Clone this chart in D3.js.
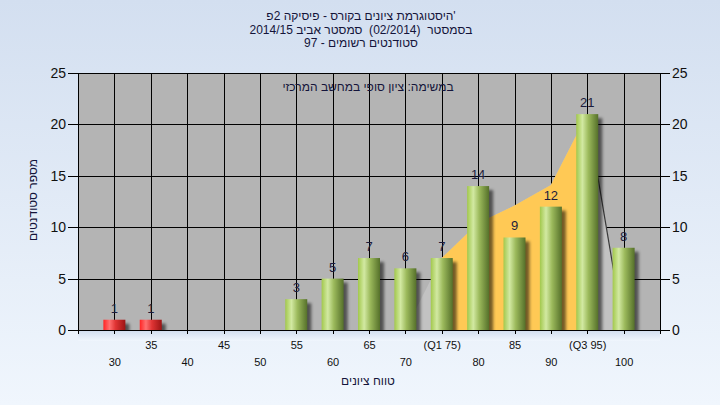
<!DOCTYPE html>
<html>
<head>
<meta charset="utf-8">
<script src="https://cdn.jsdelivr.net/npm/d3@7"></script>
<style>
  html, body { margin: 0; padding: 0; }
  svg { display: block; }
  text { font-family: "Liberation Sans", Arial, "DejaVu Sans", sans-serif; }
</style>
</head>
<body>
<svg id="chart" width="720" height="405"></svg>
<script>
// ---------- data ----------
const categories = ["30","35","40","45","50","55","60","65","70","75","80","85","90","95","100"];
const tickLabels = ["30","35","40","45","50","55","60","65","70","(Q1 75)","80","85","90","(Q3 95)","100"];
const counts     = [1, 1, 0, 0, 0, 3, 5, 7, 6, 7, 14, 9, 12, 21, 8];
const failCategories = ["30","35","40","45","50"];
// distribution band (light gray outside quartiles, orange between Q1 and Q3)
const bandCategories = ["70","75","80","85","90","95","100"];
const bandValues     = [0, 7, 10.4, 12.1, 14.1, 21, 0];
const q1Category = "75";
const q3Category = "95";
const yTicks = [0, 5, 10, 15, 20, 25];
const titleLines = ["היסטוגרמת ציונים בקורס - פיסיקה 2פ'", "בסמסטר  (02/2014)  סמסטר אביב 2014/15", "סטודנטים רשומים - 97"];
const plotSubtitle = "במשימה: ציון סופי במחשב המרכזי";
const yTitle = "מספר סטודנטים";
const xTitle = "טווח ציונים";

// ---------- layout ----------
const W = 720, H = 405;
const plot = {left: 78, right: 660, top: 73, bottom: 330};
const svg = d3.select("#chart");
const defs = svg.append("defs");

const bg = defs.append("linearGradient").attr("id","bg").attr("x1",0).attr("y1",0).attr("x2",0).attr("y2",1);
bg.append("stop").attr("offset","0%").attr("stop-color","#d3dff0");
bg.append("stop").attr("offset","100%").attr("stop-color","#f0f6fd");

const gGreen = defs.append("linearGradient").attr("id","green").attr("x1",0).attr("y1",0).attr("x2",1).attr("y2",0);
[["0%","#a2c84c"],["28%","#d2e9a2"],["55%","#9cba5c"],["100%","#55702a"]].forEach(([o,c]) =>
  gGreen.append("stop").attr("offset",o).attr("stop-color",c));
const gRed = defs.append("linearGradient").attr("id","red").attr("x1",0).attr("y1",0).attr("x2",1).attr("y2",0);
[["0%","#ff2424"],["28%","#ff7070"],["55%","#e03434"],["100%","#9c1414"]].forEach(([o,c]) =>
  gRed.append("stop").attr("offset",o).attr("stop-color",c));

const shadow = defs.append("filter").attr("id","shadow").attr("x","-50%").attr("y","-50%").attr("width","200%").attr("height","200%");
shadow.append("feGaussianBlur").attr("stdDeviation",1.6);

svg.append("rect").attr("width",W).attr("height",H).attr("fill","url(#bg)");

// ---------- scales ----------
const x = d3.scalePoint().domain(categories).range([plot.left, plot.right]).padding(1);
const y = d3.scaleLinear().domain([0, 25]).range([plot.bottom, plot.top]);

// plot background
svg.append("rect").attr("x",plot.left).attr("y",plot.top)
  .attr("width",plot.right-plot.left).attr("height",plot.bottom-plot.top).attr("fill","#b4b4b4");

// grid
const grid = svg.append("g").attr("stroke","#000").attr("stroke-width",1).attr("shape-rendering","crispEdges");
grid.selectAll("line.h").data(yTicks.filter(d=>d>0)).join("line")
  .attr("x1",plot.left).attr("x2",plot.right).attr("y1",d=>Math.round(y(d))+0.5).attr("y2",d=>Math.round(y(d))+0.5);
grid.selectAll("line.v").data(categories).join("line")
  .attr("y1",plot.top).attr("y2",plot.bottom).attr("x1",d=>Math.round(x(d))+0.5).attr("x2",d=>Math.round(x(d))+0.5);

// distribution band
const bandData = bandCategories.map((c,i)=>({c, v: bandValues[i]}));
const area = d3.area().x(d=>x(d.c)).y0(y(0)).y1(d=>y(d.v));
svg.append("path").datum(bandData).attr("d",area).attr("fill","#c2c2c2");
const i1 = bandCategories.indexOf(q1Category), i3 = bandCategories.indexOf(q3Category);
svg.append("path").datum(bandData.slice(i1, i3+1)).attr("d",area).attr("fill","#ffc955");
svg.append("path").datum(bandData.slice(i3)).attr("d",d3.line().x(d=>x(d.c)).y(d=>y(d.v)))
  .attr("fill","none").attr("stroke","#3a3a3a").attr("stroke-width",1.2);

// bars
const barW = 22;
const data = categories.map((c,i)=>({c, v: counts[i]})).filter(d=>d.v>0);
svg.append("g").selectAll("rect").data(data).join("rect")
  .attr("x",d=>x(d.c)-barW/2+4).attr("y",d=>y(d.v)+4)
  .attr("width",barW).attr("height",d=>y(0)-y(d.v))
  .attr("fill","#000").attr("opacity",0.55).attr("filter","url(#shadow)");
svg.append("rect").attr("x",plot.left).attr("y",plot.bottom+1).attr("width",plot.right-plot.left).attr("height",10).attr("fill","url(#bg)");
svg.append("g").selectAll("rect").data(data).join("rect")
  .attr("x",d=>x(d.c)-barW/2).attr("y",d=>y(d.v))
  .attr("width",barW).attr("height",d=>y(0)-y(d.v))
  .attr("fill",d=>failCategories.includes(d.c) ? "url(#red)" : "url(#green)");

// value labels
svg.append("g").selectAll("text").data(data).join("text")
  .attr("x",d=>x(d.c)).attr("y",d=>y(d.v)-7)
  .attr("text-anchor","middle").attr("font-size",13).attr("fill","#1c1c3c")
  .text(d=>d.v);

// axes
const axL = svg.append("g").attr("transform",`translate(${plot.left},0)`)
  .call(d3.axisLeft(y).tickValues(yTicks).tickSize(10).tickPadding(2));
const axR = svg.append("g").attr("transform",`translate(${plot.right},0)`)
  .call(d3.axisRight(y).tickValues(yTicks).tickSize(10).tickPadding(2));
[axL, axR].forEach(a => {
  a.select(".domain").remove();
  a.selectAll("line").attr("stroke","#000").attr("shape-rendering","crispEdges");
  a.selectAll("text").attr("font-size",14).attr("fill","#101010")
    .style("font-family","'Liberation Sans', Arial, sans-serif");
});
const axis = svg.append("g").attr("stroke","#000").attr("shape-rendering","crispEdges");
axis.append("line").attr("x1",plot.left+0.5).attr("x2",plot.left+0.5).attr("y1",plot.top).attr("y2",plot.bottom+4);
axis.append("line").attr("x1",plot.right+0.5).attr("x2",plot.right+0.5).attr("y1",plot.top).attr("y2",plot.bottom+4);
axis.append("line").attr("x1",plot.left).attr("x2",plot.right+1).attr("y1",plot.bottom+0.5).attr("y2",plot.bottom+0.5);

const axB = svg.append("g").attr("transform",`translate(0,${plot.bottom})`)
  .call(d3.axisBottom(x).tickSize(4).tickFormat((d,i)=>tickLabels[i]));
axB.select(".domain").remove();
axB.selectAll("line").attr("stroke","#000").attr("shape-rendering","crispEdges");
axB.selectAll("text")
  .attr("font-size",11).attr("fill","#101010")
  .style("font-family","'Liberation Sans', Arial, sans-serif")
  .attr("y",(d,i)=> i%2===0 ? 36 : 19).attr("dy",0);

// titles
const tg = svg.append("g").attr("font-size",12).attr("fill","#14143a").attr("text-anchor","middle");
tg.selectAll("text").data(titleLines).join("text")
  .attr("x",361).attr("y",(d,i)=>20+i*13.5).style("white-space","pre").text(d=>d);
svg.append("text").attr("x",368).attr("y",91).attr("text-anchor","middle").attr("font-size",12)
  .attr("fill","#14143a").text(plotSubtitle);
svg.append("text").attr("transform","translate(37,200) rotate(-90)").attr("text-anchor","middle")
  .attr("font-size",12).attr("fill","#14143a").text(yTitle);
svg.append("text").attr("x",368).attr("y",385).attr("text-anchor","middle").attr("font-size",12)
  .attr("fill","#14143a").text(xTitle);
</script>
</body>
</html>
